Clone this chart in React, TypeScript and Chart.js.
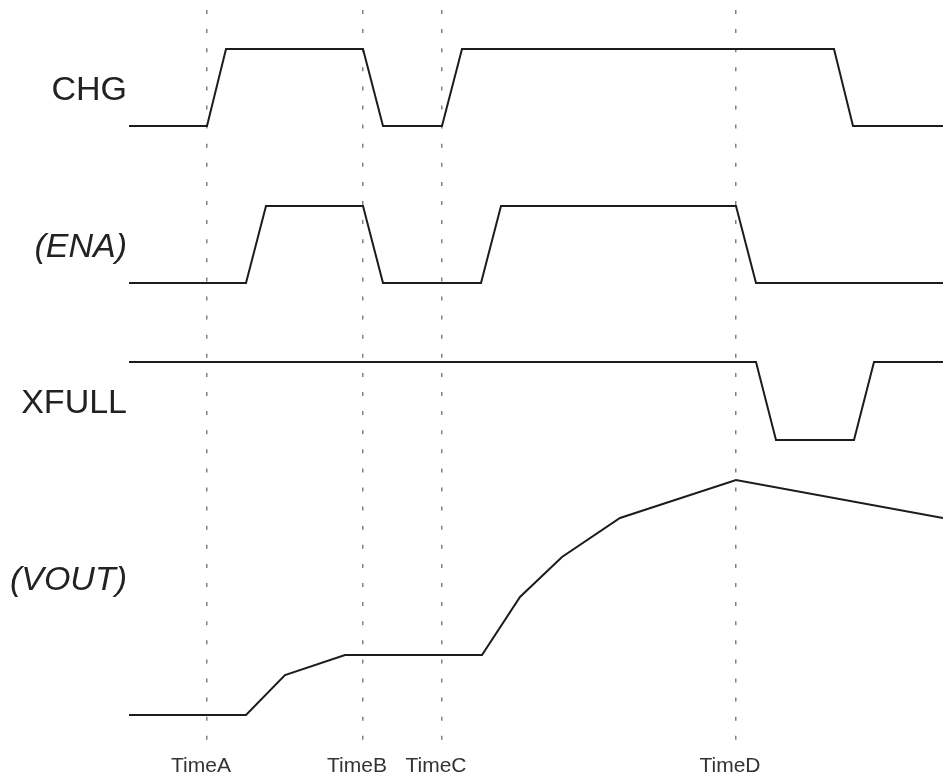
import React, { useEffect, useRef } from "react";
import { Chart, registerables } from "chart.js";

Chart.register(...registerables);

// Time axis (arbitrary time units, 0..814)
const X_MIN = 0;
const X_MAX = 814;

// Marker times and their labels
const markerTimes = [78, 234, 313, 607];
const markerLabels = ["TimeA", "TimeB", "TimeC", "TimeD"];

// Signal lane labels (left side) and their vertical positions (y units)
const laneLabels = ["CHG", "(ENA)", "XFULL", "(VOUT)"];
const laneLabelY = [650, 493, 337, 160];
const laneItalic = [false, true, false, true];

// Digital lane levels (low / high, y units)
const chgLow = 615;
const chgHigh = 692;
const enaLow = 458;
const enaHigh = 535;
const xfullLow = 301;
const xfullHigh = 379;

// CHG
const chgTimes = [0, 78, 97, 234, 254, 313, 333, 705, 724, 814];
const chgLevels = [0, 0, 1, 1, 0, 0, 1, 1, 0, 0];

// (ENA)
const enaTimes = [0, 117, 137, 234, 254, 352, 372, 607, 627, 814];
const enaLevels = [0, 0, 1, 1, 0, 0, 1, 1, 0, 0];

// XFULL
const xfullTimes = [0, 627, 647, 725, 745, 814];
const xfullLevels = [1, 1, 0, 0, 1, 1];

// (VOUT) analog
const voutTimes = [0, 117, 156, 216, 353, 391, 433, 491, 607, 814];
const voutValues = [26, 26, 66, 86, 86, 144, 184, 223, 261, 223];

const Y_MIN = 0;
const Y_MAX = 731;

const LINE_COLOR = "#1c1c1c";
const FONT = "'Liberation Sans', Arial, Helvetica, sans-serif";

function digital(times: number[], levels: number[], lo: number, hi: number) {
  return times.map((t, i) => ({ x: t, y: levels[i] ? hi : lo }));
}

export default function App() {
  const canvasRef = useRef<HTMLCanvasElement | null>(null);

  useEffect(() => {
    const canvas = canvasRef.current;
    if (!canvas) return;

    const lineDs = (label: string, data: { x: number; y: number }[]) => ({
      label,
      data,
      borderColor: LINE_COLOR,
      borderWidth: 2,
      pointRadius: 0,
      tension: 0,
      fill: false,
      borderJoinStyle: "miter" as const,
    });

    const chart = new Chart(canvas, {
      type: "line",
      data: {
        datasets: [
          lineDs("CHG", digital(chgTimes, chgLevels, chgLow, chgHigh)),
          lineDs("(ENA)", digital(enaTimes, enaLevels, enaLow, enaHigh)),
          lineDs("XFULL", digital(xfullTimes, xfullLevels, xfullLow, xfullHigh)),
          lineDs(
            "(VOUT)",
            voutTimes.map((t, i) => ({ x: t, y: voutValues[i] }))
          ),
        ],
      },
      options: {
        animation: false,
        responsive: true,
        maintainAspectRatio: false,
        layout: { padding: { top: 10, left: 0, right: 0, bottom: 0 } },
        plugins: {
          legend: { display: false },
          tooltip: { enabled: false },
        },
        scales: {
          x: {
            type: "linear",
            min: X_MIN,
            max: X_MAX,
            position: "bottom",
            afterBuildTicks: (scale: any) => {
              scale.ticks = markerTimes.map((v) => ({ value: v }));
            },
            afterFit: (scale: any) => {
              scale.height = 37;
              scale.paddingLeft = 0;
              scale.paddingRight = 0;
            },
            grid: {
              display: true,
              color: "#808080",
              lineWidth: 1.5,
              drawTicks: false,
            },
            border: { display: false, dash: [4, 15.1] },
            ticks: {
              autoSkip: false,
              maxRotation: 0,
              minRotation: 0,
              padding: 13,
              labelOffset: -6,
              color: "#333",
              font: { family: FONT, size: 21 },
              callback: (_v: any, i: number) => markerLabels[i],
            },
          },
          y: {
            type: "linear",
            min: Y_MIN,
            max: Y_MAX,
            position: "left",
            afterBuildTicks: (scale: any) => {
              scale.ticks = laneLabelY.map((v) => ({ value: v }));
            },
            afterFit: (scale: any) => {
              scale.width = 129;
              scale.paddingTop = 0;
              scale.paddingBottom = 0;
            },
            grid: { display: false, drawTicks: false },
            border: { display: false },
            ticks: {
              padding: 2,
              autoSkip: false,
              color: "#222",
              font: (ctx: any) => ({
                family: FONT,
                size: 34,
                style: laneItalic[ctx.index] ? "italic" : "normal",
              }),
              callback: (_v: any, i: number) => laneLabels[i],
            },
          },
        },
      },
    });

    return () => chart.destroy();
  }, []);

  return (
    <div
      style={{
        position: "absolute",
        left: 0,
        top: 0,
        width: 943,
        height: 778,
        background: "#fff",
      }}
    >
      <canvas ref={canvasRef} />
    </div>
  );
}
